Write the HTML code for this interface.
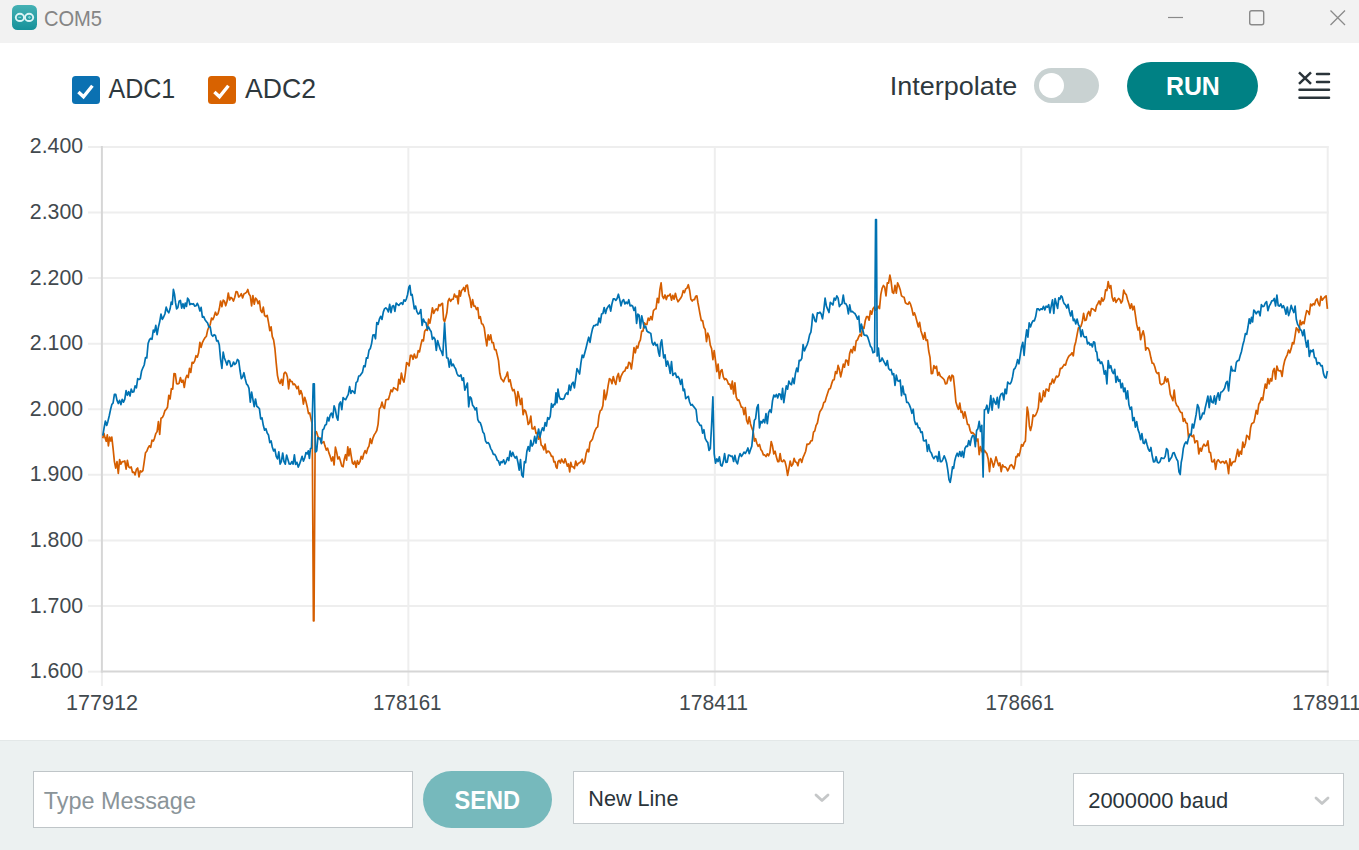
<!DOCTYPE html>
<html><head><meta charset="utf-8"><title>COM5</title>
<style>
html,body{margin:0;padding:0;}
body{width:1359px;height:850px;overflow:hidden;position:relative;background:#fff;font-family:"Liberation Sans",sans-serif;}
.abs{position:absolute;white-space:nowrap;}
#titlebar{position:absolute;left:0;top:0;width:1359px;height:43px;background:#f2f2f2;}
#appicon{position:absolute;left:11.5px;top:4.5px;width:25px;height:25.4px;border-radius:5.5px;background:linear-gradient(#45b1b4,#16919a);}
#bottombar{position:absolute;left:0;top:740px;width:1359px;height:110px;background:#ecf1f1;box-shadow:inset 0 1px 0 #e3e8e8;}
.cb{position:absolute;top:76px;width:27.7px;height:27.8px;border-radius:3.5px;}
.lbl{font-size:26px;line-height:26px;color:#1f2b32;}
.toggle{position:absolute;left:1034px;top:68px;width:65px;height:35px;border-radius:18px;background:#c9d2d2;}
.knob{position:absolute;left:5px;top:5px;width:25px;height:25px;border-radius:50%;background:#fff;}
.run{position:absolute;left:1127px;top:62px;width:131px;height:48px;border-radius:24px;background:#008184;}
.input{position:absolute;left:33px;top:771px;width:378px;height:55px;background:#fff;border:1px solid #bfc5c8;}
.send{position:absolute;left:423px;top:771px;width:129px;height:57px;border-radius:28.5px;background:#76b9bc;}
.sel{position:absolute;background:#fff;border:1px solid #c3c9cc;}
.ylab{font-size:21px;line-height:21px;color:#3b4348;text-align:right;width:80px;}
.xlab{font-size:21px;line-height:21px;color:#3b4348;text-align:center;width:120px;}
</style></head>
<body>
<div id="titlebar">
  <div id="appicon">
    <svg width="25" height="25.4" viewBox="0 0 25 25.4" style="position:absolute;left:0;top:0">
      <ellipse cx="7.9" cy="12.4" rx="4.1" ry="3.6" fill="none" stroke="#dcf5f6" stroke-width="1.9"/>
      <ellipse cx="17.1" cy="12.4" rx="4.1" ry="3.6" fill="none" stroke="#dcf5f6" stroke-width="1.9"/>
      <rect x="6.3" y="11.8" width="2.8" height="1.2" fill="#7ccfd1"/>
      <rect x="16" y="11.8" width="2.8" height="1.2" fill="#7ccfd1"/>
      <rect x="16.8" y="11" width="1.2" height="2.8" fill="#7ccfd1"/>
    </svg>
  </div>
    <svg class="abs" style="left:1150px;top:0" width="209" height="43">
    <line x1="18" y1="17.5" x2="33" y2="17.5" stroke="#8a8a8a" stroke-width="1.2"/>
    <rect x="99.7" y="10.7" width="14" height="14" rx="2" fill="none" stroke="#8a8a8a" stroke-width="1.4"/>
    <path d="M180.5 10.5 L195 25 M195 10.5 L180.5 25" stroke="#8a8a8a" stroke-width="1.3" fill="none"/>
  </svg>
</div>

<!-- toolbar -->
<div class="cb" style="left:72.2px;background:#0b71b2;">
  <svg width="27" height="27" style="position:absolute;left:0;top:0"><path d="M6.4 16.0 L11.5 20.8 L20.4 9.8" fill="none" stroke="#fff" stroke-width="3.4" stroke-linecap="butt" stroke-linejoin="miter"/></svg>
</div>
<div class="cb" style="left:208.2px;background:#d86200;">
  <svg width="27" height="27" style="position:absolute;left:0;top:0"><path d="M6.4 16.0 L11.5 20.8 L20.4 9.8" fill="none" stroke="#fff" stroke-width="3.4" stroke-linecap="butt" stroke-linejoin="miter"/></svg>
</div>

<div class="toggle"><div class="knob"></div></div>
<div class="run"></div>
<svg class="abs" style="left:1290px;top:60px" width="50" height="50">
  <path d="M9 12.3 L21 23.8 M21 12.3 L9 23.8" stroke="#2a343a" stroke-width="2.5" fill="none"/>
  <line x1="27" y1="14" x2="39" y2="14" stroke="#2a343a" stroke-width="2.5" stroke-linecap="round"/>
  <line x1="27" y1="22" x2="39" y2="22" stroke="#2a343a" stroke-width="2.5" stroke-linecap="round"/>
  <line x1="9.5" y1="29.7" x2="39" y2="29.7" stroke="#2a343a" stroke-width="2.5" stroke-linecap="round"/>
  <line x1="9.5" y1="37.7" x2="39" y2="37.7" stroke="#2a343a" stroke-width="2.5" stroke-linecap="round"/>
</svg>

<!-- chart -->
<svg class="abs" style="left:0;top:0" width="1359" height="740">
  <g stroke="#eeeeee" stroke-width="2" fill="none">
    <line x1="88" y1="146.90" x2="1328.7" y2="146.90"/>
    <line x1="88" y1="212.49" x2="1328.7" y2="212.49"/>
    <line x1="88" y1="278.08" x2="1328.7" y2="278.08"/>
    <line x1="88" y1="343.67" x2="1328.7" y2="343.67"/>
    <line x1="88" y1="409.26" x2="1328.7" y2="409.26"/>
    <line x1="88" y1="474.85" x2="1328.7" y2="474.85"/>
    <line x1="88" y1="540.44" x2="1328.7" y2="540.44"/>
    <line x1="88" y1="606.03" x2="1328.7" y2="606.03"/>
    <line x1="88" y1="671.62" x2="101.90" y2="671.62"/>
    <line x1="408.35" y1="145.90" x2="408.35" y2="686"/>
    <line x1="714.80" y1="145.90" x2="714.80" y2="686"/>
    <line x1="1021.25" y1="145.90" x2="1021.25" y2="686"/>
    <line x1="1327.70" y1="145.90" x2="1327.70" y2="686"/>
    <line x1="101.90" y1="671.62" x2="101.90" y2="686"/>
  </g>
  <g stroke="#d6d6d6" stroke-width="2" fill="none">
    <line x1="100.90" y1="671.62" x2="1328.7" y2="671.62"/>
    <line x1="101.90" y1="145.90" x2="101.90" y2="672.62"/>
  </g>
  <path d="M102.8 438.3 L103.9 433.3 L105.0 437.6 L106.2 441.3 L107.3 434.8 L108.4 445.8 L109.6 437.0 L110.7 440.9 L111.8 437.0 L113.1 448.6 L114.4 461.6 L115.7 468.1 L117.0 461.7 L118.3 473.5 L119.6 459.6 L120.9 464.2 L122.2 461.6 L123.5 461.6 L124.8 461.0 L126.1 469.2 L127.4 460.3 L128.7 466.8 L130.0 467.8 L131.2 467.0 L132.5 472.4 L133.8 472.0 L135.1 474.9 L136.4 469.4 L137.7 468.0 L139.0 476.8 L140.3 470.8 L141.6 471.9 L142.9 470.7 L144.2 461.8 L145.5 452.7 L146.8 451.2 L148.1 447.9 L149.4 445.8 L150.7 447.4 L152.0 440.2 L153.3 441.1 L154.5 438.3 L155.8 433.6 L157.1 431.6 L158.4 421.7 L159.7 434.4 L161.0 418.3 L162.3 417.6 L163.6 415.1 L164.9 410.7 L166.2 409.3 L167.5 407.2 L168.8 395.4 L170.1 398.9 L171.4 388.7 L172.7 389.1 L174.0 373.6 L175.3 373.9 L176.6 383.7 L177.8 383.9 L179.1 383.3 L180.4 377.6 L181.7 382.2 L183.0 380.2 L184.3 387.5 L185.6 378.7 L186.9 375.3 L188.2 377.6 L189.5 368.4 L190.8 372.4 L192.1 362.3 L193.4 363.2 L194.7 360.9 L196.0 355.7 L197.3 357.2 L198.6 352.8 L199.9 342.4 L201.1 347.3 L202.4 342.6 L203.7 339.9 L205.0 337.7 L206.3 336.5 L207.6 330.3 L208.9 327.0 L210.2 324.7 L211.5 318.1 L212.8 319.6 L214.1 316.6 L215.4 312.2 L216.7 315.2 L218.0 313.7 L219.3 308.8 L220.6 301.0 L221.9 306.7 L223.2 300.1 L224.4 301.1 L225.7 305.8 L227.0 301.6 L228.3 293.0 L229.6 300.0 L230.9 297.5 L232.2 298.5 L233.5 301.1 L234.8 297.2 L236.1 291.5 L237.4 292.1 L238.7 297.0 L240.0 295.9 L241.3 293.7 L242.6 297.9 L243.9 294.0 L245.2 293.3 L246.5 292.4 L247.8 289.5 L249.0 294.0 L250.3 295.9 L251.6 306.0 L252.9 295.6 L254.2 304.2 L255.5 298.1 L256.8 299.6 L258.1 303.7 L259.4 300.9 L260.7 310.5 L262.0 312.5 L263.3 307.1 L264.6 315.6 L265.9 316.6 L267.2 315.3 L268.5 322.4 L269.8 330.6 L271.1 326.8 L272.3 336.6 L273.6 339.9 L274.9 348.5 L276.2 362.9 L277.5 375.6 L278.8 381.3 L280.1 383.6 L281.4 379.3 L282.7 385.2 L284.0 373.6 L285.1 372.2 L286.3 373.3 L287.4 377.0 L288.6 388.8 L289.8 379.3 L290.9 381.4 L292.1 381.6 L293.2 384.6 L294.4 383.9 L295.6 385.6 L296.9 388.6 L298.2 386.3 L299.5 394.4 L300.8 390.6 L302.1 394.3 L303.4 404.2 L304.7 397.3 L306.0 401.6 L307.3 407.2 L308.5 413.6 L309.7 413.0 L311.0 418.8 L312.2 424.0 L313.4 620.8 L314.0 620.8 L315.2 432.0 L316.4 431.7 L317.7 435.7 L318.9 438.7 L320.1 438.0 L321.3 442.3 L322.6 442.6 L323.8 441.6 L325.0 446.1 L326.3 450.1 L327.6 448.1 L328.9 452.9 L330.2 456.4 L331.5 460.9 L332.8 456.9 L334.1 465.0 L335.4 447.2 L336.7 452.4 L337.9 459.0 L339.2 457.0 L340.5 461.2 L341.8 466.1 L343.1 466.8 L344.3 459.1 L345.5 454.7 L346.6 460.2 L347.8 446.9 L348.9 455.8 L350.1 448.6 L351.2 455.8 L352.4 463.0 L353.5 464.2 L354.8 461.2 L356.1 467.3 L357.4 460.7 L358.7 464.2 L360.0 461.7 L361.2 456.3 L362.5 459.0 L363.8 453.8 L365.1 450.6 L366.4 453.4 L367.7 448.5 L369.0 446.2 L370.3 438.6 L371.6 443.5 L372.9 438.1 L374.2 434.9 L375.5 432.9 L376.8 430.5 L378.1 424.1 L379.4 408.8 L380.7 407.2 L382.0 402.1 L383.3 407.3 L384.5 408.4 L385.8 400.1 L387.1 399.4 L388.4 399.5 L389.7 395.0 L391.0 389.9 L392.3 391.7 L393.6 387.7 L394.9 388.4 L396.2 389.2 L397.5 390.5 L398.8 379.3 L400.1 383.9 L401.4 373.1 L402.7 379.3 L404.0 382.1 L405.3 373.6 L406.6 362.7 L407.8 363.2 L409.1 365.8 L410.4 355.4 L411.7 355.3 L413.0 359.3 L414.3 354.1 L415.6 358.0 L416.9 357.4 L418.2 350.7 L419.5 351.9 L420.8 345.1 L422.1 339.8 L423.4 340.9 L424.7 331.2 L426.0 329.5 L427.3 330.4 L428.6 319.2 L429.9 323.2 L431.1 316.6 L432.4 307.8 L433.7 313.3 L435.0 310.3 L436.3 308.8 L437.6 310.6 L438.9 304.7 L440.2 305.8 L441.5 303.7 L442.5 303.3 L443.6 319.7 L444.6 321.8 L445.8 317.6 L446.9 312.5 L448.1 301.1 L449.3 298.5 L450.6 301.3 L451.9 299.3 L453.2 299.1 L454.4 294.1 L455.7 297.0 L457.0 295.9 L458.2 303.8 L459.3 290.7 L460.4 296.1 L461.6 290.4 L462.7 289.6 L463.8 287.4 L465.0 291.4 L466.1 285.5 L467.4 285.2 L468.7 293.9 L470.0 298.5 L471.3 307.3 L472.6 299.7 L473.9 306.1 L475.2 306.2 L476.5 309.5 L477.8 307.6 L479.0 318.4 L480.3 316.6 L481.6 323.7 L482.9 324.2 L484.2 327.7 L485.5 337.3 L486.8 345.8 L488.1 334.8 L489.4 340.0 L490.7 334.8 L492.0 342.7 L493.3 342.5 L494.6 349.6 L495.9 349.5 L497.2 354.9 L498.5 360.6 L499.8 373.3 L501.1 378.7 L502.3 380.0 L503.6 381.8 L504.9 378.3 L506.2 376.1 L507.5 372.1 L508.8 381.7 L510.1 379.8 L511.4 386.5 L512.7 390.7 L514.0 389.5 L515.3 394.8 L516.6 405.7 L517.9 391.6 L519.2 396.9 L520.5 404.5 L521.8 398.4 L523.1 414.7 L524.4 409.8 L525.6 411.0 L526.9 416.2 L528.2 424.5 L529.5 422.8 L530.8 416.1 L532.1 428.7 L533.4 429.0 L534.7 426.6 L536.0 433.4 L537.3 433.1 L538.6 439.2 L539.9 435.8 L541.2 445.1 L542.5 446.1 L543.8 449.8 L545.1 444.2 L546.4 453.0 L547.7 451.2 L548.9 451.4 L550.2 453.2 L551.5 456.4 L552.8 456.4 L553.9 462.0 L555.0 461.6 L556.0 466.9 L557.0 468.4 L558.0 461.6 L559.2 460.3 L560.4 463.0 L561.6 459.1 L562.8 461.6 L563.9 462.9 L565.1 458.8 L566.2 462.3 L567.4 466.2 L568.5 464.0 L569.7 471.8 L570.8 462.4 L572.0 466.7 L573.1 466.8 L574.4 468.5 L575.7 461.1 L577.0 465.6 L578.3 463.3 L579.6 462.7 L580.9 461.6 L582.2 459.2 L583.5 463.9 L584.8 461.7 L586.1 453.8 L587.4 449.4 L588.7 451.8 L590.0 442.3 L591.2 440.9 L592.5 439.1 L593.8 434.1 L595.1 430.3 L596.4 427.9 L597.7 426.9 L599.0 415.6 L600.3 410.6 L601.6 409.8 L602.9 405.5 L604.2 390.0 L605.5 399.6 L606.8 394.3 L608.1 385.9 L609.4 378.7 L610.7 379.5 L612.0 383.7 L613.3 376.5 L614.5 381.3 L615.8 384.4 L617.1 376.9 L618.4 373.5 L619.7 381.4 L621.0 376.3 L622.3 373.6 L623.6 371.5 L624.9 370.9 L626.2 367.1 L627.5 368.2 L628.8 362.3 L630.1 363.2 L631.4 369.0 L632.7 359.4 L634.0 347.7 L635.3 352.8 L636.6 346.1 L637.8 348.1 L639.1 342.5 L640.4 339.9 L641.7 331.2 L643.0 331.2 L644.3 322.8 L645.6 324.4 L646.9 324.5 L648.2 318.2 L649.5 320.3 L650.8 316.6 L652.1 319.8 L653.4 310.8 L654.7 309.2 L656.0 308.8 L657.3 298.3 L658.6 302.7 L659.9 289.4 L661.1 282.9 L662.4 296.0 L663.7 298.5 L665.0 295.0 L666.3 299.6 L667.6 295.5 L668.9 295.9 L670.2 293.9 L671.5 300.2 L672.8 295.3 L674.1 299.1 L675.4 293.3 L676.7 298.5 L678.0 301.8 L679.3 299.9 L680.6 298.3 L681.9 295.9 L683.2 290.6 L684.4 292.7 L685.7 288.9 L687.0 288.1 L688.3 284.7 L689.6 290.2 L690.9 299.3 L692.2 301.1 L693.4 299.5 L694.5 299.6 L695.7 296.3 L696.9 295.9 L697.9 302.5 L698.9 307.9 L700.0 314.0 L701.3 320.6 L702.6 320.5 L703.9 327.4 L705.2 329.5 L706.5 341.6 L707.8 333.2 L709.0 336.2 L710.3 345.1 L711.6 348.6 L712.9 359.7 L714.2 350.7 L715.5 360.6 L716.8 371.6 L718.1 364.2 L719.4 378.5 L720.7 371.0 L722.0 369.6 L723.3 376.8 L724.6 379.7 L725.9 378.7 L727.2 380.5 L728.5 384.2 L729.8 384.0 L731.1 389.1 L732.3 381.2 L733.6 394.0 L734.9 382.9 L736.2 396.9 L737.5 400.3 L738.8 399.9 L740.1 403.5 L741.4 407.2 L742.7 407.4 L744.0 414.6 L745.3 407.7 L746.6 420.2 L747.9 423.8 L749.2 416.8 L750.5 423.9 L751.8 427.9 L753.1 431.2 L754.4 441.1 L755.6 438.7 L756.9 443.5 L758.2 446.3 L759.5 444.4 L760.8 449.4 L762.1 451.2 L763.4 454.9 L764.7 454.9 L766.0 456.6 L767.3 453.8 L768.6 455.8 L769.9 452.6 L771.2 441.5 L772.5 446.1 L773.8 454.0 L775.1 451.2 L776.4 457.1 L777.7 461.6 L778.9 461.7 L780.1 453.5 L781.3 461.0 L782.6 461.7 L783.8 460.0 L785.0 461.6 L786.3 466.9 L787.6 475.3 L788.9 468.6 L790.2 461.0 L791.5 466.1 L792.8 464.2 L794.1 458.4 L795.4 462.0 L796.7 462.4 L797.9 465.7 L799.2 459.7 L800.5 459.0 L801.8 462.4 L803.1 457.3 L804.4 454.4 L805.7 451.2 L807.0 444.2 L808.3 444.3 L809.6 443.5 L810.9 440.9 L812.2 440.7 L813.5 432.1 L814.8 430.9 L816.1 425.3 L817.4 423.0 L818.7 416.3 L820.0 411.4 L821.2 409.8 L822.5 407.4 L823.8 402.5 L825.1 401.8 L826.4 396.9 L827.7 393.0 L829.0 389.0 L830.3 388.6 L831.6 383.9 L832.9 380.1 L834.2 379.7 L835.5 371.6 L836.8 373.6 L838.1 365.4 L839.4 369.6 L840.7 376.8 L842.0 371.0 L843.3 364.2 L844.5 367.2 L845.8 360.1 L847.1 360.6 L848.4 365.2 L849.7 353.2 L851.0 349.5 L852.3 352.8 L853.6 346.6 L854.9 350.6 L856.2 341.0 L857.5 339.9 L858.8 336.6 L860.1 334.1 L861.4 336.2 L862.7 327.0 L864.0 328.3 L865.3 320.5 L866.6 316.6 L867.8 316.6 L869.1 320.2 L870.4 310.9 L871.7 314.2 L873.0 308.8 L874.3 307.0 L875.6 310.2 L876.9 309.4 L878.2 306.2 L879.5 308.6 L880.8 294.6 L882.1 288.4 L883.4 285.5 L884.7 287.1 L886.0 295.9 L887.3 282.8 L888.6 283.1 L889.9 275.2 L891.1 281.1 L892.4 292.3 L893.7 293.3 L895.0 285.4 L896.3 293.2 L897.6 282.9 L898.9 285.9 L900.2 289.7 L901.5 295.9 L902.8 296.8 L904.1 297.2 L905.4 302.8 L906.7 303.7 L908.0 304.3 L909.3 301.9 L910.6 304.4 L911.9 308.8 L913.2 315.1 L914.4 312.8 L915.7 316.6 L917.0 321.8 L918.3 326.9 L919.6 322.3 L920.9 330.7 L922.2 334.7 L923.5 339.2 L924.8 332.6 L926.1 340.5 L927.4 339.9 L928.7 351.0 L930.0 357.3 L931.3 373.6 L932.6 373.3 L933.9 365.7 L935.2 368.4 L936.5 366.3 L937.8 375.4 L939.0 372.3 L940.3 376.1 L941.6 377.1 L942.9 378.3 L944.2 379.8 L945.5 383.9 L946.8 383.5 L948.1 378.0 L949.4 376.0 L950.7 380.9 L952.0 375.2 L953.3 376.1 L954.6 387.8 L955.9 402.0 L957.2 406.3 L958.5 409.3 L959.8 403.1 L961.1 412.4 L962.3 411.4 L963.6 418.2 L964.9 411.9 L966.2 417.6 L967.5 424.4 L968.8 424.6 L970.1 430.3 L971.4 433.1 L972.7 432.6 L974.0 434.0 L975.3 435.4 L976.6 440.9 L977.9 439.0 L979.2 454.7 L980.5 446.7 L981.8 451.2 L983.1 453.7 L984.4 450.3 L985.6 452.0 L986.9 453.8 L988.2 459.0 L989.5 471.6 L990.8 458.4 L992.1 461.6 L993.4 467.1 L994.7 462.4 L996.0 456.9 L997.3 461.6 L998.6 465.6 L999.9 462.9 L1001.2 471.7 L1002.5 464.8 L1003.8 466.9 L1005.1 466.8 L1006.4 468.0 L1007.7 470.8 L1008.9 468.5 L1010.2 465.4 L1011.5 464.7 L1012.8 466.8 L1013.9 468.9 L1015.0 464.2 L1016.0 456.5 L1017.0 456.9 L1018.0 453.8 L1019.1 455.9 L1020.2 451.2 L1021.5 444.6 L1022.8 446.2 L1024.1 442.8 L1025.4 440.9 L1026.3 423.4 L1027.2 407.2 L1028.3 412.7 L1029.4 426.2 L1030.5 430.5 L1031.8 425.2 L1033.1 414.8 L1034.4 416.4 L1035.7 415.0 L1037.0 412.0 L1038.3 407.8 L1039.6 393.0 L1040.9 402.0 L1042.2 399.7 L1043.5 390.9 L1044.8 396.6 L1046.1 389.1 L1047.4 389.6 L1048.7 391.1 L1050.0 383.5 L1051.2 383.9 L1052.5 379.0 L1053.8 382.9 L1055.1 379.4 L1056.4 376.1 L1057.7 377.0 L1059.0 375.3 L1060.3 368.4 L1061.6 368.4 L1062.9 366.6 L1064.2 364.5 L1065.5 365.2 L1066.8 360.6 L1068.1 357.5 L1069.4 355.5 L1070.7 354.7 L1072.0 352.8 L1073.3 355.8 L1074.5 346.3 L1075.8 341.7 L1077.1 334.7 L1078.4 327.9 L1079.7 327.8 L1081.0 326.3 L1082.3 321.8 L1083.6 313.3 L1084.9 320.6 L1086.2 320.0 L1087.5 314.0 L1088.8 311.4 L1090.1 315.8 L1091.4 308.6 L1092.7 308.8 L1094.0 309.9 L1095.3 311.2 L1096.6 305.6 L1097.8 303.7 L1099.1 300.9 L1100.4 304.7 L1101.7 297.9 L1103.0 301.1 L1104.3 298.8 L1105.6 289.8 L1106.9 290.5 L1108.2 281.7 L1109.5 288.2 L1110.8 285.6 L1112.1 297.1 L1113.4 301.1 L1114.7 297.9 L1116.0 302.4 L1117.3 300.0 L1118.6 298.5 L1119.9 299.6 L1121.1 303.0 L1122.4 300.8 L1123.7 290.1 L1125.0 293.3 L1126.3 294.6 L1127.6 299.8 L1128.9 303.7 L1130.2 308.5 L1131.5 303.8 L1132.8 309.8 L1134.1 306.2 L1135.4 315.1 L1136.7 324.4 L1138.0 330.0 L1139.3 327.5 L1140.6 339.7 L1141.9 334.7 L1143.2 330.9 L1144.4 336.3 L1145.7 350.1 L1147.0 347.7 L1148.3 348.2 L1149.6 351.5 L1150.9 357.8 L1152.2 363.2 L1153.5 363.4 L1154.8 366.7 L1156.1 371.8 L1157.4 373.6 L1158.7 372.6 L1160.0 383.2 L1161.3 384.7 L1162.6 383.9 L1163.9 383.3 L1165.2 376.8 L1166.5 381.9 L1167.8 378.7 L1169.0 384.7 L1170.3 394.3 L1171.6 397.4 L1172.9 400.7 L1174.2 390.0 L1175.5 402.0 L1176.8 405.6 L1178.1 406.7 L1179.4 410.3 L1180.7 412.4 L1182.0 412.7 L1183.3 421.4 L1184.6 418.7 L1185.9 422.8 L1187.2 423.5 L1188.5 437.4 L1189.8 434.1 L1191.1 435.7 L1192.3 436.7 L1193.6 435.1 L1194.9 442.8 L1196.2 440.9 L1197.5 441.2 L1198.8 454.0 L1200.1 448.2 L1201.4 451.2 L1202.7 446.6 L1204.0 444.2 L1205.3 446.1 L1206.6 445.4 L1207.9 440.9 L1209.2 452.1 L1210.5 452.6 L1211.8 461.6 L1213.1 461.8 L1214.4 459.5 L1215.6 469.4 L1216.9 461.6 L1218.2 459.8 L1219.5 461.6 L1220.8 462.9 L1222.1 461.6 L1223.4 461.7 L1224.7 463.4 L1226.0 460.8 L1227.3 464.2 L1228.6 473.7 L1229.9 458.8 L1231.2 465.6 L1232.5 462.5 L1233.8 461.5 L1235.1 461.6 L1236.4 455.6 L1237.7 449.3 L1238.9 456.4 L1240.2 451.2 L1241.5 454.1 L1242.8 442.0 L1244.1 447.5 L1245.4 443.5 L1246.7 435.3 L1248.0 436.5 L1249.3 439.4 L1250.6 427.9 L1251.7 423.7 L1252.8 423.1 L1253.8 422.6 L1254.9 417.6 L1256.2 410.4 L1257.5 414.0 L1258.8 404.2 L1260.1 402.0 L1261.4 397.8 L1262.7 400.0 L1264.0 391.7 L1265.3 384.0 L1266.6 388.2 L1267.9 378.7 L1269.2 383.9 L1270.5 378.7 L1271.8 381.0 L1273.0 371.1 L1274.3 368.4 L1275.6 379.1 L1276.9 366.1 L1278.2 370.3 L1279.5 371.0 L1280.8 370.7 L1282.1 376.5 L1283.4 366.5 L1284.7 360.6 L1286.0 357.3 L1287.3 354.6 L1288.6 350.0 L1289.9 352.8 L1291.2 348.6 L1292.5 342.5 L1293.8 343.8 L1295.1 335.7 L1296.3 327.8 L1297.6 329.5 L1298.9 332.5 L1300.2 320.4 L1301.5 324.7 L1302.8 321.8 L1304.1 323.7 L1305.4 316.4 L1306.7 310.6 L1308.0 311.4 L1309.3 314.5 L1310.6 304.1 L1311.9 305.8 L1313.2 303.7 L1314.5 304.8 L1315.8 300.3 L1317.1 298.9 L1318.4 303.7 L1319.6 305.8 L1320.9 296.4 L1322.2 300.1 L1323.5 298.5 L1324.8 297.0 L1326.1 295.9 L1327.4 308.8" fill="none" stroke="#D55E00" stroke-width="1.7" stroke-linejoin="round"/>
  <path d="M102.8 435.7 L104.1 427.9 L105.4 421.0 L106.7 425.4 L107.9 421.4 L109.2 416.0 L110.5 409.8 L111.8 404.6 L113.1 402.9 L114.4 394.4 L115.7 394.3 L117.0 400.4 L118.3 403.5 L119.6 400.4 L120.9 404.6 L122.2 399.3 L123.5 402.2 L124.8 399.1 L126.1 390.7 L127.4 395.3 L128.7 391.7 L130.0 396.0 L131.2 389.2 L132.5 392.2 L133.8 391.7 L135.1 385.9 L136.4 387.9 L137.7 378.7 L139.0 379.5 L140.3 378.7 L141.6 371.0 L142.9 367.8 L144.2 365.0 L145.5 357.6 L146.8 358.0 L148.1 343.5 L149.4 339.9 L150.7 338.4 L152.0 339.3 L153.3 330.0 L154.5 332.1 L155.8 325.3 L157.1 334.6 L158.4 327.1 L159.7 321.8 L161.0 314.1 L162.3 319.4 L163.6 317.0 L164.9 314.0 L166.2 307.2 L167.5 310.9 L168.8 312.8 L170.1 308.8 L171.2 302.1 L172.3 304.3 L173.4 289.4 L174.5 294.2 L175.5 302.4 L176.6 308.8 L177.8 307.7 L179.1 301.3 L180.4 300.4 L181.7 308.1 L183.0 303.7 L184.2 308.4 L185.3 303.0 L186.5 306.4 L187.6 298.2 L188.8 299.7 L189.9 304.7 L191.1 303.7 L192.2 304.1 L193.4 303.7 L194.7 306.2 L196.0 305.8 L197.3 303.3 L198.6 306.2 L199.9 311.0 L201.1 307.4 L202.4 317.1 L203.7 316.6 L205.0 319.7 L206.3 321.4 L207.6 323.1 L208.9 327.0 L210.2 326.9 L211.5 334.7 L212.8 336.3 L214.1 334.7 L215.4 335.5 L216.7 341.0 L218.0 340.7 L219.3 345.1 L220.6 359.5 L221.9 368.4 L223.2 352.1 L224.4 358.0 L225.7 361.3 L227.0 365.0 L228.3 360.5 L229.6 361.3 L230.9 366.6 L232.2 365.8 L233.5 362.0 L234.8 364.5 L236.1 363.2 L237.4 359.5 L238.7 360.6 L240.0 370.5 L241.3 378.7 L242.6 376.9 L243.9 372.7 L245.2 378.7 L246.5 383.9 L247.8 385.3 L249.0 388.4 L250.3 402.1 L251.6 392.0 L252.9 399.4 L254.2 406.7 L255.5 399.0 L256.8 406.3 L258.1 407.2 L259.4 408.7 L260.7 419.0 L262.0 417.9 L263.3 425.3 L264.6 430.2 L265.9 428.7 L267.2 433.1 L268.5 435.0 L269.8 442.6 L271.1 440.9 L272.3 447.0 L273.6 450.9 L274.9 449.2 L276.2 456.4 L277.5 458.9 L278.8 451.9 L280.1 464.2 L281.4 461.4 L282.7 453.0 L284.0 461.6 L285.3 464.2 L286.6 455.1 L287.9 459.6 L289.2 463.9 L290.5 464.2 L291.8 461.6 L293.1 464.1 L294.4 454.8 L295.6 464.4 L296.9 462.3 L298.2 467.1 L299.5 464.2 L300.8 460.4 L302.1 456.3 L303.4 461.1 L304.7 458.0 L306.0 452.5 L307.3 453.8 L308.3 450.9 L309.4 458.4 L310.4 448.8 L311.5 448.0 L313.2 383.8 L314.3 383.8 L315.5 452.0 L316.7 450.9 L317.9 437.6 L319.1 438.4 L320.2 438.7 L321.4 443.6 L322.6 430.0 L323.8 428.9 L325.0 425.3 L326.3 424.6 L327.6 417.3 L328.9 420.9 L330.2 415.0 L331.5 413.1 L332.8 417.6 L334.1 405.8 L335.4 409.8 L336.7 417.1 L337.9 420.2 L339.2 404.1 L340.5 402.0 L341.8 409.7 L343.1 397.7 L344.4 399.1 L345.7 399.7 L347.0 396.8 L348.3 394.3 L349.6 386.7 L350.9 393.3 L352.2 390.7 L353.5 391.7 L354.8 393.4 L356.1 382.7 L357.4 381.5 L358.7 376.1 L360.0 375.7 L361.2 374.0 L362.5 372.2 L363.8 365.8 L365.1 366.7 L366.4 357.9 L367.7 358.2 L369.0 350.3 L370.3 348.5 L371.6 343.6 L372.9 335.1 L374.2 334.7 L375.5 338.8 L376.8 322.6 L378.1 324.3 L379.4 319.2 L380.7 316.3 L382.0 319.4 L383.3 312.1 L384.5 308.8 L385.8 307.8 L387.1 309.2 L388.4 311.9 L389.7 304.4 L391.0 312.7 L392.3 306.2 L393.6 305.6 L394.9 311.3 L396.2 303.0 L397.5 304.4 L398.8 305.4 L400.1 303.7 L401.4 302.8 L402.7 304.4 L404.0 299.8 L405.3 301.1 L406.4 298.8 L407.6 294.5 L408.8 287.3 L409.9 285.5 L411.0 295.2 L412.1 294.4 L413.2 301.3 L414.3 308.8 L415.6 306.1 L416.9 311.7 L418.2 314.0 L419.5 313.3 L420.8 309.5 L422.1 325.4 L423.4 319.2 L424.7 322.1 L426.0 322.8 L427.3 329.2 L428.6 327.0 L429.9 329.7 L431.1 331.4 L432.4 339.4 L433.7 337.3 L435.0 339.2 L436.3 350.4 L437.6 340.6 L438.9 345.1 L440.2 349.3 L441.5 351.6 L442.8 355.4 L443.7 339.2 L444.6 323.1 L445.6 341.2 L446.7 358.0 L448.0 358.1 L449.3 367.2 L450.6 359.3 L451.9 365.8 L453.2 364.1 L454.4 366.9 L455.7 369.0 L457.0 373.6 L458.3 375.7 L459.6 376.1 L460.9 374.8 L462.2 380.4 L463.5 377.8 L464.8 390.2 L466.1 386.5 L467.4 383.1 L468.7 406.8 L470.0 396.9 L471.3 398.4 L472.6 405.3 L473.9 406.9 L475.2 409.8 L476.5 407.8 L477.8 419.7 L479.0 422.0 L480.3 422.8 L481.6 426.6 L482.9 432.1 L484.2 433.8 L485.5 440.9 L486.8 443.2 L488.1 442.6 L489.4 444.4 L490.7 448.6 L492.0 450.6 L493.3 454.3 L494.6 454.3 L495.9 456.4 L497.2 460.1 L498.5 461.0 L499.8 465.1 L501.1 461.6 L502.3 462.5 L503.6 459.8 L504.9 464.0 L506.2 461.6 L507.5 457.7 L508.8 460.5 L510.1 451.0 L511.4 456.4 L512.7 452.4 L514.0 455.8 L515.3 458.1 L516.6 456.4 L517.9 462.2 L519.2 470.1 L520.5 459.6 L521.8 475.1 L523.1 477.1 L524.4 461.7 L525.6 462.7 L526.9 451.2 L528.2 446.5 L529.5 451.1 L530.8 440.4 L532.1 446.1 L533.4 443.7 L534.7 436.4 L536.0 443.1 L537.3 435.7 L538.6 429.0 L539.9 437.2 L541.2 431.5 L542.5 427.9 L543.8 430.6 L545.1 422.6 L546.4 426.0 L547.7 417.6 L548.9 419.3 L550.2 416.7 L551.5 403.7 L552.8 407.2 L553.9 404.3 L555.0 404.6 L556.0 392.8 L557.0 402.8 L558.0 389.1 L559.2 396.3 L560.4 399.1 L561.6 398.9 L562.8 399.4 L564.1 398.5 L565.4 394.5 L566.7 393.0 L567.9 394.3 L569.2 385.0 L570.5 390.3 L571.8 383.9 L573.1 382.2 L574.4 387.9 L575.7 378.7 L577.0 368.6 L578.3 371.2 L579.6 374.0 L580.9 363.2 L582.2 355.1 L583.5 357.5 L584.8 352.8 L586.1 347.7 L587.4 342.3 L588.7 337.2 L590.0 342.4 L591.2 334.7 L592.5 328.9 L593.8 325.5 L595.1 325.7 L596.4 324.4 L597.7 325.1 L599.0 318.0 L600.3 322.6 L601.6 314.0 L602.9 313.5 L604.2 307.5 L605.5 313.4 L606.8 308.8 L608.1 306.6 L609.4 305.0 L610.7 311.1 L612.0 303.7 L613.3 298.8 L614.5 298.8 L615.8 300.4 L617.1 298.5 L618.4 294.2 L619.7 299.4 L621.0 305.8 L622.3 301.1 L623.6 299.6 L624.9 303.9 L626.2 302.1 L627.5 303.7 L628.8 299.7 L630.1 305.9 L631.4 305.3 L632.7 306.2 L634.0 310.5 L635.3 307.2 L636.6 323.5 L637.8 314.0 L639.1 315.2 L640.4 328.1 L641.7 315.8 L643.0 321.8 L644.3 327.8 L645.6 326.2 L646.9 331.0 L648.2 332.1 L649.5 332.6 L650.8 333.4 L652.1 342.7 L653.4 345.1 L654.7 342.3 L656.0 345.5 L657.3 344.5 L658.6 352.8 L659.6 356.2 L660.6 343.6 L661.7 339.9 L662.7 349.2 L663.7 358.0 L665.0 354.9 L666.3 366.2 L667.6 361.0 L668.9 365.8 L670.2 373.4 L671.5 361.5 L672.8 375.5 L674.1 373.6 L675.4 373.1 L676.7 377.5 L678.0 376.5 L679.3 378.7 L680.6 384.4 L681.9 379.4 L683.2 390.7 L684.4 389.1 L685.7 398.6 L687.0 397.3 L688.3 396.3 L689.6 402.0 L690.9 405.2 L692.2 404.5 L693.5 406.4 L694.8 408.0 L696.1 409.8 L697.4 421.5 L698.7 422.8 L700.0 425.3 L701.3 425.4 L702.6 433.2 L703.9 429.7 L705.2 438.3 L706.5 441.0 L707.8 442.6 L709.0 450.4 L710.3 448.6 L711.6 425.0 L712.9 396.9 L714.2 453.8 L715.5 463.2 L716.8 458.9 L718.1 461.6 L719.4 456.8 L720.7 465.2 L722.0 466.0 L723.3 461.6 L724.6 453.6 L725.9 462.3 L727.2 462.2 L728.5 455.0 L729.8 455.3 L731.1 456.4 L732.3 456.2 L733.6 461.5 L734.9 455.3 L736.2 461.6 L737.5 463.9 L738.8 457.6 L740.1 453.5 L741.4 456.4 L742.7 454.6 L744.0 452.1 L745.3 453.5 L746.6 451.2 L747.9 448.0 L749.2 453.6 L750.5 449.8 L751.8 446.1 L753.1 432.4 L754.4 420.2 L755.6 418.7 L756.9 407.9 L758.2 404.6 L759.5 427.9 L760.8 421.3 L762.1 422.9 L763.4 419.6 L764.7 422.8 L766.0 413.6 L767.3 423.6 L768.6 412.7 L769.9 409.8 L771.2 412.5 L772.5 400.9 L773.8 395.1 L775.1 396.9 L776.4 394.5 L777.7 397.9 L778.9 393.8 L780.2 394.3 L781.4 399.3 L782.6 388.3 L783.8 402.7 L785.0 394.3 L786.3 385.8 L787.6 389.2 L788.9 381.0 L790.2 383.9 L791.5 384.7 L792.8 378.1 L794.1 383.6 L795.4 373.6 L796.7 368.1 L797.9 371.6 L799.2 360.4 L800.5 360.6 L801.8 358.4 L803.1 344.7 L804.4 350.9 L805.7 347.7 L807.0 345.0 L808.3 341.0 L809.6 334.9 L810.9 332.1 L811.8 324.8 L812.7 314.0 L813.8 316.5 L814.9 320.8 L816.1 321.8 L817.4 312.8 L818.7 313.3 L820.0 312.2 L821.2 314.0 L822.5 318.8 L823.8 310.2 L825.1 298.1 L826.4 306.2 L827.7 309.3 L829.0 312.5 L830.3 302.4 L831.6 303.7 L832.9 305.0 L834.2 298.1 L835.5 300.1 L836.8 295.9 L838.1 298.1 L839.4 306.6 L840.7 304.6 L842.0 303.7 L843.3 295.0 L844.5 303.4 L845.8 303.7 L847.1 306.2 L848.4 313.8 L849.7 304.9 L851.0 311.8 L852.3 311.4 L853.6 312.6 L854.9 313.5 L856.2 315.9 L857.5 319.2 L858.8 316.1 L860.1 332.1 L861.4 324.1 L862.7 329.5 L864.0 334.9 L865.3 335.4 L866.6 335.3 L867.8 337.3 L869.1 341.5 L870.4 346.1 L871.7 347.7 L873.0 352.8 L874.6 352.0 L875.6 219.5 L876.4 219.5 L877.2 356.0 L878.4 348.1 L879.7 361.6 L880.9 361.0 L882.1 358.0 L883.4 360.6 L884.7 363.1 L886.0 365.5 L887.3 360.5 L888.6 368.4 L889.9 370.1 L891.1 369.4 L892.4 374.7 L893.7 373.6 L895.0 385.5 L896.3 375.1 L897.6 380.8 L898.9 381.3 L900.2 380.0 L901.5 395.6 L902.8 386.2 L904.1 394.3 L905.4 394.4 L906.7 402.3 L908.0 402.4 L909.3 404.6 L910.6 408.1 L911.9 413.3 L913.2 409.2 L914.4 420.2 L915.7 424.5 L917.0 423.2 L918.3 427.8 L919.6 427.9 L920.9 432.4 L922.2 431.8 L923.5 440.6 L924.8 440.9 L926.1 439.9 L927.4 451.3 L928.7 444.7 L930.0 451.2 L931.3 452.9 L932.6 456.6 L933.9 458.7 L935.2 456.4 L936.5 456.3 L937.8 461.3 L939.0 451.6 L940.3 461.6 L941.6 461.6 L942.9 459.3 L944.2 455.9 L945.5 459.0 L946.7 463.3 L947.8 470.1 L949.0 479.6 L950.2 482.3 L951.3 476.0 L952.5 466.8 L953.6 468.4 L954.7 461.0 L955.9 456.4 L957.2 453.2 L958.5 456.4 L959.8 451.5 L961.1 456.4 L962.3 451.3 L963.6 457.5 L964.9 448.5 L966.2 446.1 L967.5 446.5 L968.8 440.5 L970.1 445.4 L971.4 438.3 L972.7 435.4 L974.0 436.1 L975.3 446.7 L976.6 430.5 L977.9 428.7 L979.2 421.4 L980.5 431.5 L981.8 425.3 L983.1 477.1 L984.4 409.8 L985.6 409.5 L986.9 405.2 L988.2 413.1 L989.5 407.2 L990.8 395.6 L992.1 410.1 L993.4 398.3 L994.7 402.0 L996.0 404.3 L997.3 397.4 L998.6 408.0 L999.9 396.9 L1001.2 393.9 L1002.5 393.1 L1003.8 399.9 L1005.1 389.1 L1006.4 393.7 L1007.7 382.0 L1008.9 383.5 L1010.2 383.9 L1011.4 381.6 L1012.6 376.7 L1013.8 369.5 L1015.0 368.4 L1016.3 365.2 L1017.6 359.7 L1018.9 363.8 L1020.2 355.4 L1021.5 347.0 L1022.8 342.3 L1024.1 355.5 L1025.4 339.9 L1026.7 329.8 L1027.9 337.2 L1029.2 322.9 L1030.5 327.0 L1031.8 323.0 L1033.1 320.6 L1034.4 320.8 L1035.7 316.6 L1037.0 308.8 L1038.3 308.9 L1039.6 310.3 L1040.9 308.8 L1042.2 309.4 L1043.5 306.4 L1044.8 309.9 L1046.1 306.2 L1047.4 307.2 L1048.7 304.7 L1050.0 312.9 L1051.2 306.2 L1052.5 299.8 L1053.8 313.4 L1055.1 298.6 L1056.4 303.7 L1057.6 308.4 L1058.8 297.8 L1059.9 299.3 L1061.1 295.9 L1062.1 296.8 L1063.2 301.2 L1064.2 303.7 L1065.5 304.9 L1066.8 308.0 L1068.1 304.3 L1069.4 311.4 L1070.7 316.0 L1072.0 310.8 L1073.3 320.6 L1074.5 319.2 L1075.8 323.9 L1077.1 319.0 L1078.4 324.7 L1079.7 327.0 L1081.0 336.7 L1082.3 329.8 L1083.6 336.1 L1084.9 337.3 L1086.2 336.7 L1087.5 343.9 L1088.8 342.3 L1090.1 345.1 L1091.2 343.8 L1092.4 346.9 L1093.6 341.8 L1094.7 342.5 L1095.8 351.2 L1096.8 352.2 L1097.8 360.6 L1099.1 359.5 L1100.4 363.5 L1101.7 362.0 L1103.0 365.8 L1104.3 374.2 L1105.6 370.7 L1106.9 383.9 L1108.2 360.6 L1109.5 368.0 L1110.8 365.7 L1112.1 371.3 L1113.4 373.6 L1114.7 369.3 L1116.0 382.3 L1117.3 376.4 L1118.6 381.3 L1119.9 379.7 L1121.1 387.8 L1122.4 383.4 L1123.7 391.7 L1125.0 388.0 L1126.3 399.0 L1127.6 390.9 L1128.9 404.6 L1130.2 409.4 L1131.5 407.1 L1132.8 420.7 L1134.1 417.6 L1135.4 427.1 L1136.7 421.6 L1138.0 429.6 L1139.3 433.1 L1140.6 439.7 L1141.9 433.6 L1143.2 442.9 L1144.4 443.5 L1145.7 439.4 L1147.0 444.5 L1148.3 449.1 L1149.6 451.2 L1150.9 447.5 L1152.2 455.8 L1153.5 461.9 L1154.8 461.6 L1156.1 456.7 L1157.4 462.3 L1158.7 462.9 L1160.0 461.6 L1161.3 457.8 L1162.6 458.3 L1163.9 458.5 L1165.2 456.4 L1166.5 448.6 L1167.8 450.3 L1169.0 461.3 L1170.3 459.0 L1171.6 457.2 L1172.9 453.0 L1174.2 452.7 L1175.5 456.4 L1176.7 459.2 L1177.8 461.0 L1179.0 471.8 L1180.2 474.5 L1181.2 462.5 L1182.2 457.6 L1183.3 448.6 L1184.6 443.9 L1185.9 442.0 L1187.2 443.8 L1188.5 438.3 L1189.8 434.6 L1191.1 434.6 L1192.3 424.0 L1193.6 427.9 L1194.9 421.2 L1196.2 414.2 L1197.5 404.6 L1198.8 407.7 L1200.1 419.6 L1201.4 417.6 L1202.7 413.0 L1204.0 413.9 L1205.3 407.5 L1206.6 402.0 L1207.9 396.0 L1209.2 407.7 L1210.5 396.1 L1211.8 402.0 L1213.1 402.9 L1214.4 395.8 L1215.6 404.2 L1216.9 396.9 L1218.2 392.8 L1219.5 400.1 L1220.8 392.2 L1222.1 391.7 L1223.4 390.2 L1224.7 388.0 L1226.0 382.9 L1227.3 381.3 L1228.6 390.8 L1229.9 377.3 L1231.2 366.4 L1232.5 371.0 L1233.8 370.4 L1235.1 371.2 L1236.4 362.2 L1237.7 360.6 L1238.9 360.5 L1240.2 355.6 L1241.5 351.4 L1242.8 345.1 L1244.1 340.4 L1245.4 333.5 L1246.7 334.4 L1248.0 327.0 L1249.2 318.8 L1250.3 323.5 L1251.5 317.3 L1252.6 322.0 L1253.8 310.0 L1254.9 311.4 L1256.2 313.8 L1257.5 311.7 L1258.8 311.4 L1260.1 315.8 L1261.4 304.7 L1262.7 306.6 L1264.0 306.2 L1265.3 303.0 L1266.6 301.6 L1267.9 310.7 L1269.2 306.2 L1270.5 303.8 L1271.8 300.9 L1273.0 300.7 L1274.3 298.5 L1275.6 306.0 L1276.9 295.1 L1278.2 305.6 L1279.5 306.2 L1280.8 303.9 L1282.1 307.6 L1283.4 305.7 L1284.7 308.8 L1286.0 314.2 L1287.3 307.0 L1288.6 315.6 L1289.9 311.4 L1291.2 305.4 L1292.5 309.5 L1293.8 312.5 L1295.1 306.2 L1296.3 319.3 L1297.6 324.4 L1298.9 326.4 L1300.2 329.5 L1301.5 330.6 L1302.8 335.7 L1304.1 329.9 L1305.4 339.9 L1306.7 347.2 L1308.0 340.4 L1309.3 356.5 L1310.6 350.3 L1311.9 351.7 L1313.2 349.7 L1314.5 357.6 L1315.8 358.0 L1317.1 364.4 L1318.4 362.5 L1319.6 363.0 L1320.9 365.8 L1322.2 365.7 L1323.5 373.6 L1324.8 377.3 L1326.1 377.9 L1327.4 371.0" fill="none" stroke="#0072B2" stroke-width="1.7" stroke-linejoin="round"/>
</svg>

<!-- bottom -->
<div id="bottombar"></div>
<div class="input"></div>
<div class="send"></div>
<div class="sel" style="left:573px;top:771px;width:269px;height:51px;">
  <svg class="abs" style="left:240px;top:21px" width="18" height="12"><path d="M2 2 L8 7.6 L14 2" fill="none" stroke="#c5c7c8" stroke-width="2.8" stroke-linecap="round" stroke-linejoin="round"/></svg>
</div>
<div class="sel" style="left:1073px;top:773px;width:269px;height:51px;">
  <svg class="abs" style="left:240px;top:22px" width="18" height="12"><path d="M2 2 L8 7.6 L14 2" fill="none" stroke="#c5c7c8" stroke-width="2.8" stroke-linecap="round" stroke-linejoin="round"/></svg>
</div>
<svg class="abs" style="left:0;top:0;pointer-events:none" width="1359" height="850" font-family="Liberation Sans, sans-serif">
<text transform="translate(43.89 25.90) scale(0.9400 1)" font-size="21.43" fill="#858585">COM5</text>
<text transform="translate(108.50 97.60) scale(0.8897 1)" font-size="28.14" fill="#2e383d">ADC1</text>
<text transform="translate(245.10 97.70) scale(0.9405 1)" font-size="28.29" fill="#2e383d">ADC2</text>
<text transform="translate(889.77 94.70) scale(1.0635 1)" font-size="25.36" fill="#2e383d">Interpolate</text>
<text transform="translate(1165.96 95.20) scale(0.9431 1)" font-size="26.38" fill="#ffffff" font-weight="bold">RUN</text>
<text x="29.84" y="153.40" font-size="21.29" fill="#42494e">2.400</text>
<text x="29.84" y="218.99" font-size="21.29" fill="#42494e">2.300</text>
<text x="29.84" y="284.58" font-size="21.29" fill="#42494e">2.200</text>
<text x="29.84" y="350.17" font-size="21.29" fill="#42494e">2.100</text>
<text x="29.84" y="415.76" font-size="21.29" fill="#42494e">2.000</text>
<text x="29.84" y="481.35" font-size="21.29" fill="#42494e">1.900</text>
<text x="29.84" y="546.94" font-size="21.29" fill="#42494e">1.800</text>
<text x="29.84" y="612.53" font-size="21.29" fill="#42494e">1.700</text>
<text x="29.84" y="678.12" font-size="21.29" fill="#42494e">1.600</text>
<text transform="translate(65.97 710.00) scale(1.0075 1)" font-size="21.43" fill="#42494e">177912</text>
<text transform="translate(373.06 710.00) scale(0.9580 1)" font-size="21.43" fill="#42494e">178161</text>
<text transform="translate(679.01 710.00) scale(0.9870 1)" font-size="21.43" fill="#42494e">178411</text>
<text transform="translate(985.45 710.00) scale(0.9639 1)" font-size="21.43" fill="#42494e">178661</text>
<text transform="translate(1291.91 710.00) scale(0.9870 1)" font-size="21.43" fill="#42494e">178911</text>
<text transform="translate(43.78 808.80) scale(0.9557 1)" font-size="24.49" fill="#8a9499">Type Message</text>
<text transform="translate(454.59 809.00) scale(0.9124 1)" font-size="25.86" fill="#ffffff" font-weight="bold">SEND</text>
<text transform="translate(588.27 805.70) scale(1.0086 1)" font-size="21.45" fill="#2a343a">New Line</text>
<text transform="translate(1088.20 807.70) scale(1.0294 1)" font-size="21.29" fill="#2a343a">2000000 baud</text>
</svg>
</body></html>
